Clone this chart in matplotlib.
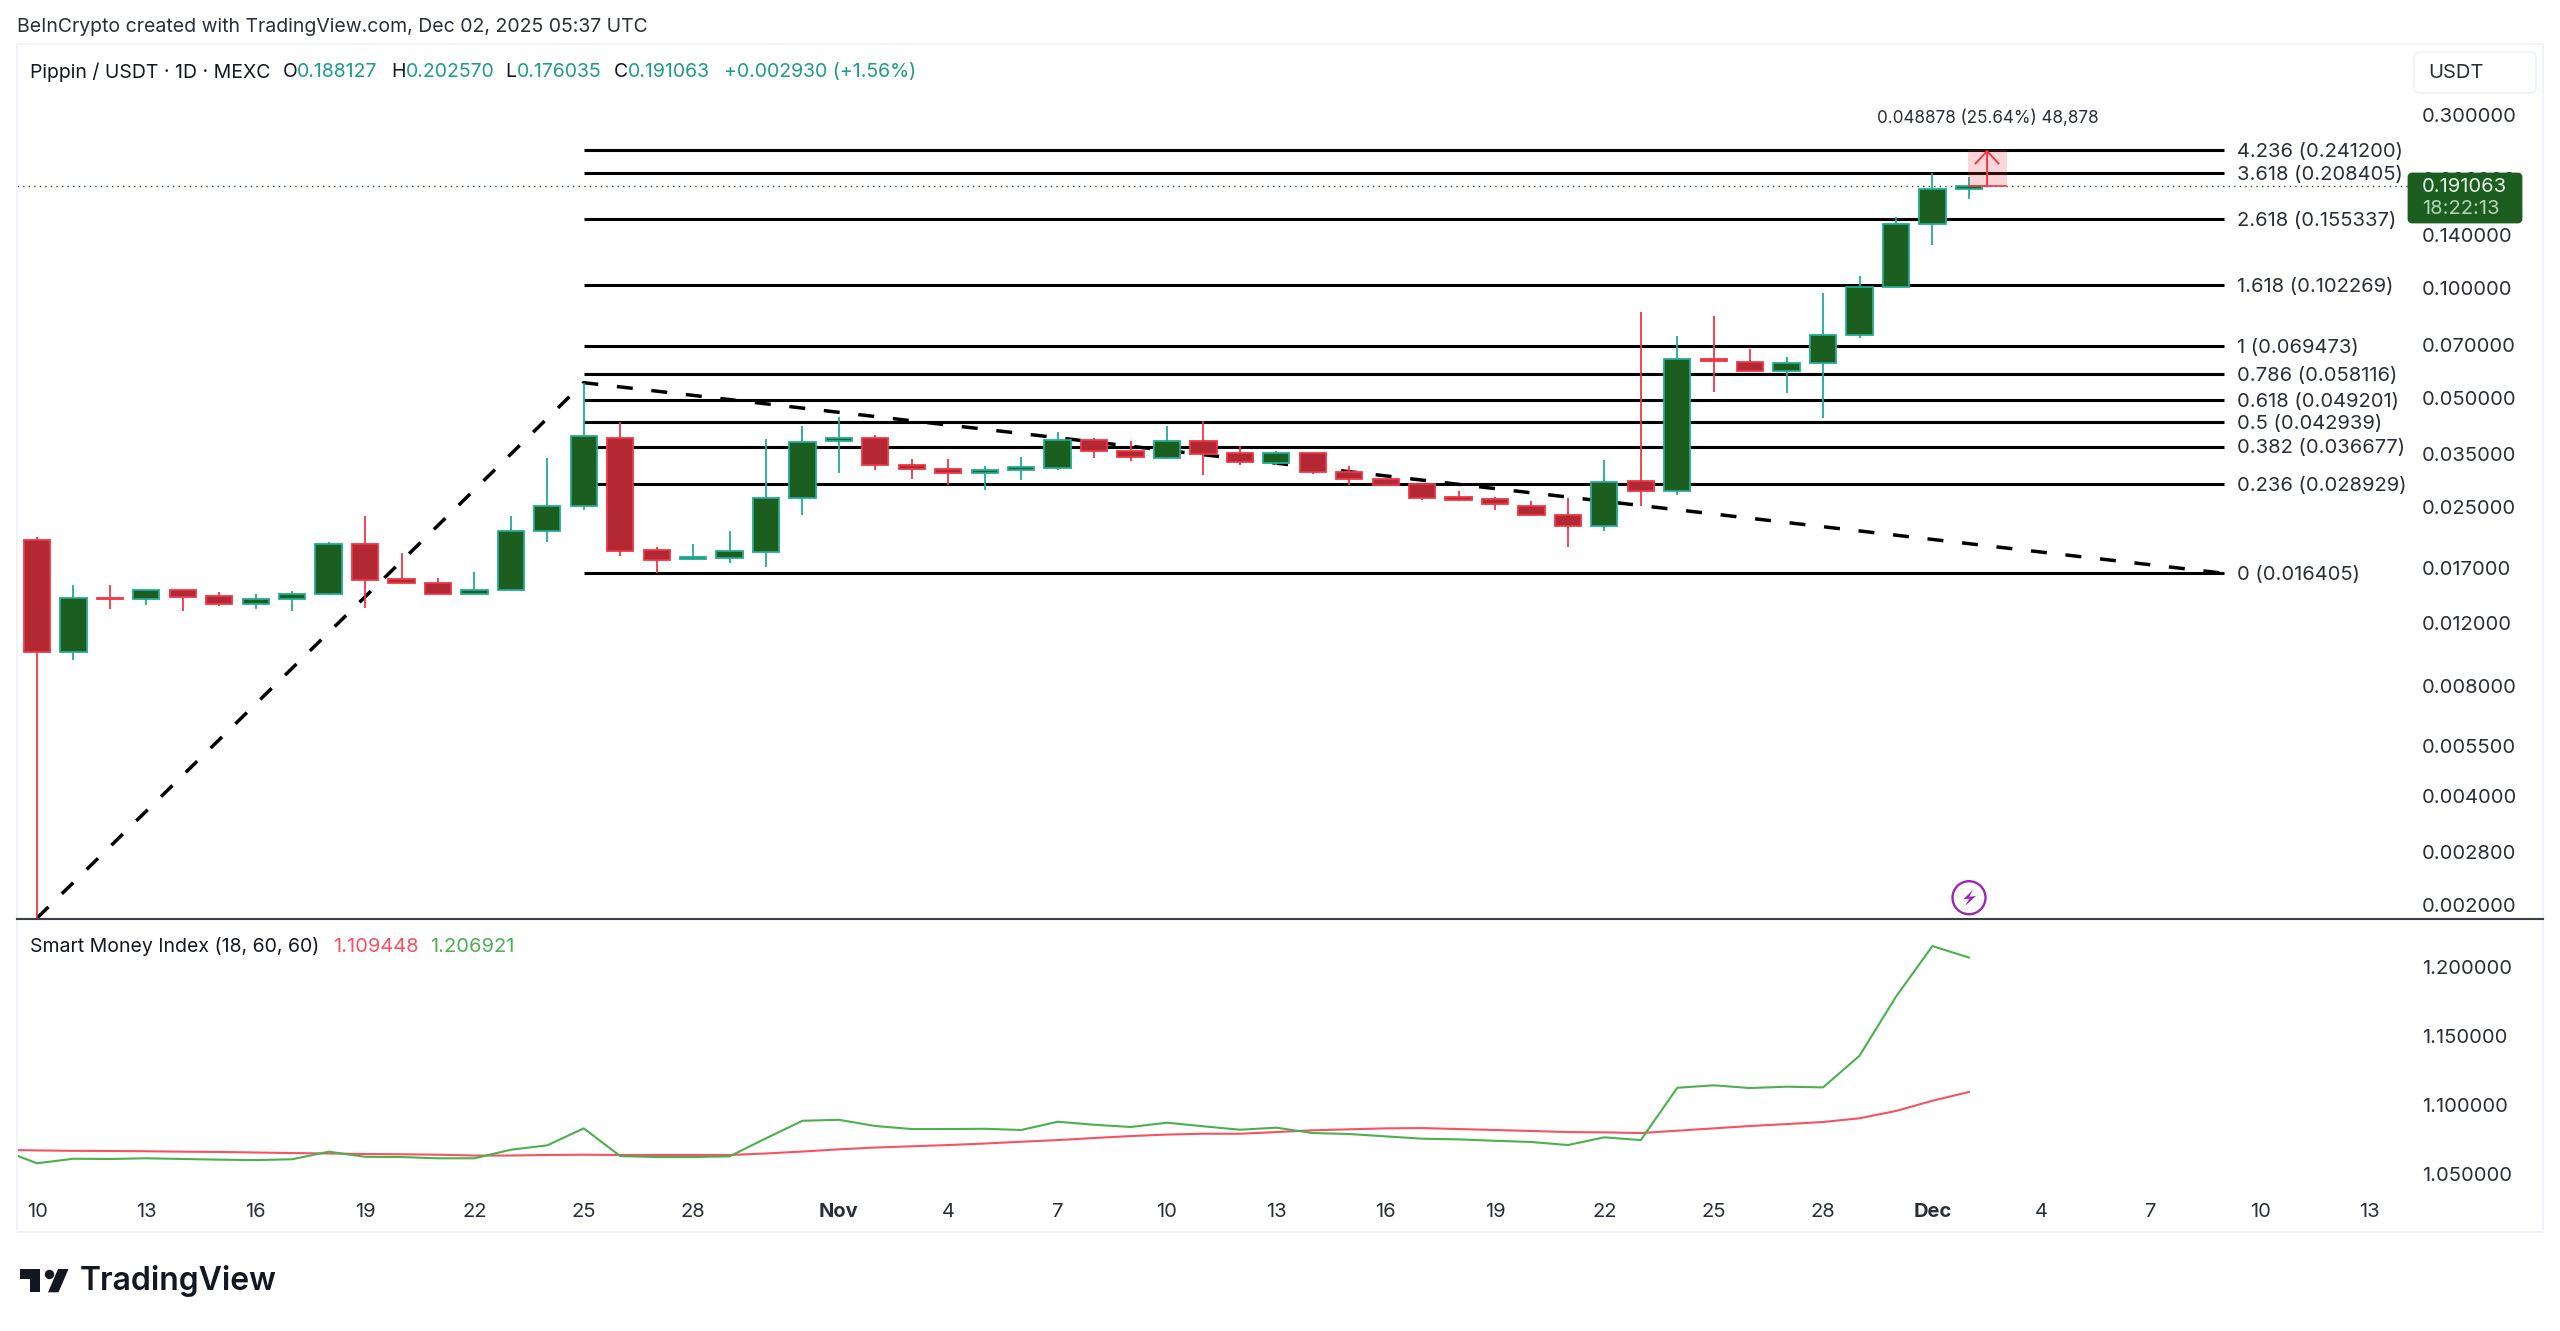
import matplotlib
matplotlib.use("Agg")
import matplotlib.pyplot as plt
from matplotlib.patches import Circle, FancyBboxPatch, Polygon, Rectangle
from matplotlib.ticker import NullLocator

plt.rcParams["font.family"] = ["Inter", "DejaVu Sans"]

# Daily candles, day 0 is Oct 10
opens = [.0203, .00993, .0140, .0139, .0148, .0142, .0135, .0139, .0144, .0197, .0158, .0154, .0144, .0148,
         .0215, .0252, .0388, .0190, .0180, .0181, .0188, .0265, .0379, .0386, .0326, .0319, .0310, .0315,
         .0321, .0382, .0357, .0342, .0380, .0351, .0331, .0351, .0313, .0299, .0289, .0266, .0263, .0252,
         .0238, .0222, .0295, .0276, .0640, .0628, .0594, .0622, .0744, .1010, .1508, .188127]
highs = [.0207, .0152, .0152, .0148, .0148, .0146, .0144, .0147, .0200, .0236, .0187, .0159, .0165, .0236,
         .0342, .0550, .0428, .0194, .0198, .0214, .0385, .0419, .0441, .0394, .0339, .0339, .0325, .0344,
         .0403, .0388, .0381, .0419, .0432, .0369, .0357, .0351, .0324, .0299, .0291, .0276, .0266, .0260,
         .0264, .0337, .0860, .0738, .0842, .0681, .0648, .0970, .1079, .1578, .2076, .20257]
lows = [.00184, .00944, .0131, .0134, .0129, .0133, .0131, .0129, .0143, .0132, .0153, .0144, .0144, .0147,
        .0200, .0245, .0183, .0164, .0178, .0175, .0171, .0237, .0310, .0317, .0299, .0288, .0279, .0297,
        .0317, .0341, .0334, .0339, .0306, .0327, .0326, .0309, .0288, .0285, .0262, .0259, .0245, .0236,
        .0194, .0215, .0251, .0270, .0518, .0593, .0514, .0440, .0730, .1007, .1320, .176035]
closes = [.00993, .0140, .0139, .0148, .0141, .0135, .0139, .0144, .0198, .0157, .0154, .0144, .0148, .0215,
          .0252, .0391, .0189, .0179, .0182, .0189, .0265, .0378, .0386, .0327, .0319, .0310, .0316, .0322,
          .0382, .0356, .0344, .0380, .0350, .0332, .0351, .0312, .0299, .0288, .0265, .0262, .0254, .0238,
          .0222, .0292, .0276, .0638, .0630, .0594, .0622, .0744, .1010, .1508, .1875, .191063]

# Smart Money Index, first value is day -1 (clipped by the pane)
smi_green = [1.0678, 1.0578, 1.0611, 1.0609, 1.0614, 1.0609, 1.0604, 1.0601, 1.0607, 1.0662, 1.0625, 1.0623,
             1.0614, 1.0614, 1.0676, 1.0708, 1.0831, 1.0630, 1.0623, 1.0623, 1.0628, 1.0759, 1.0886, 1.0893,
             1.0848, 1.0826, 1.0826, 1.0828, 1.0819, 1.0879, 1.0857, 1.0841, 1.0872, 1.0846, 1.0821, 1.0836,
             1.0797, 1.0790, 1.0773, 1.0756, 1.0751, 1.0741, 1.0732, 1.0710, 1.0766, 1.0746, 1.1125, 1.1143,
             1.1123, 1.1133, 1.1128, 1.1357, 1.1785, 1.2152, 1.206921]
smi_red = [1.0676, 1.0671, 1.0668, 1.0667, 1.0665, 1.0662, 1.0660, 1.0656, 1.0652, 1.0649, 1.0645, 1.0643,
           1.0640, 1.0634, 1.0634, 1.0638, 1.0640, 1.0638, 1.0638, 1.0638, 1.0638, 1.0649, 1.0663, 1.0679,
           1.0692, 1.0701, 1.0710, 1.0721, 1.0734, 1.0746, 1.0761, 1.0775, 1.0786, 1.0792, 1.0792, 1.0804,
           1.0817, 1.0824, 1.0831, 1.0833, 1.0826, 1.0819, 1.0812, 1.0804, 1.0802, 1.0797, 1.0814, 1.0831,
           1.0848, 1.0862, 1.0877, 1.0904, 1.0957, 1.1031, 1.109448]

# Fibonacci levels
fib_ratios = ["4.236", "3.618", "2.618", "1.618", "1", "0.786", "0.618", "0.5", "0.382", "0.236", "0"]
fib_prices = [.2412, .208405, .155337, .102269, .069473, .058116, .049201, .042939, .036677, .028929, .016405]

# Trend lines
trend_days = [0, 15, 60]
trend_prices = [.00184, .055, .016405]

price_ticks = [.3, .2, .14, .1, .07, .05, .035, .025, .017, .012, .008, .0055, .004, .0028, .002]
smi_ticks = [1.05, 1.1, 1.15, 1.2]
date_days = [0, 3, 6, 9, 12, 15, 18, 22, 25, 28, 31, 34, 37, 40, 43, 46, 49, 52, 55, 58, 61, 64]
date_labels = ["10", "13", "16", "19", "22", "25", "28", "Nov", "4", "7", "10", "13", "16", "19", "22", "25",
               "28", "Dec", "4", "7", "10", "13"]

last_price = .191063
target_price = .2412
measure_label_price = .2948

UP_FACE = "#1b5e20"
UP_EDGE = "#22ab94"
DOWN_FACE = "#b22833"
DOWN_EDGE = "#f23645"
TEXT = "#2a2e39"
TEAL = "#1f9c85"

W, H = 2560, 1331
fig = plt.figure(figsize=(W / 100, H / 100), dpi=100, facecolor="white")


def pane(left, top, right, bottom):
    return fig.add_axes([left / W, 1 - bottom / H, (right - left) / W, (bottom - top) / H])


ax = pane(17, 45, 2415, 919)
ax_smi = pane(17, 920, 2415, 1195)

# chrome drawn in pixel coordinates on top of everything
over = fig.add_axes([0, 0, 1, 1], zorder=10)
over.set_xlim(0, W)
over.set_ylim(H, 0)
over.axis("off")

xlim = (-0.5487, 65.24)
days = list(range(len(opens)))

ax.set_yscale("log")
ax.set_xlim(*xlim)
ax.set_ylim(.0018295, .4687)

# Fib lines and trend lines sit behind the candles
ax.hlines(fib_prices, 15, 60, color="black", linewidth=2.2, zorder=1)
for ratio, price in zip(fib_ratios, fib_prices):
    ax.annotate(f"{ratio} ({price:.6f})", (60.36, price), xytext=(0, -1.4), textcoords="offset points",
                fontsize=14.5, color=TEXT, va="center", ha="left", annotation_clip=False)
ax.plot(trend_days, trend_prices, color="black", linewidth=2.5, linestyle=(0, (4.6, 5.4)), zorder=1.5)

# Current price line
ax.axhline(last_price, color=UP_FACE, linewidth=1.0, linestyle=(0, (1, 3)), zorder=1.2)

# Candles
for d, o, h, l, c in zip(days, opens, highs, lows, closes):
    face, edge = (UP_FACE, UP_EDGE) if c >= o else (DOWN_FACE, DOWN_EDGE)
    ax.vlines(d, l, h, color=edge, linewidth=1.3, zorder=2)
    ax.bar(d, abs(c - o), bottom=min(o, c), width=0.72, color=face, edgecolor=edge, linewidth=1.3, zorder=3)

# Long position tool
ax.bar(53.52, target_price - last_price, bottom=last_price, width=1.07, color=DOWN_EDGE, alpha=0.2,
       linewidth=0, zorder=2.5)
ax.hlines(last_price, 52.98, 54.05, color=DOWN_EDGE, linewidth=1.2, zorder=4)
ax.annotate("", xy=(53.5, target_price), xytext=(53.5, last_price), zorder=4,
            arrowprops=dict(arrowstyle="->,head_length=0.45,head_width=0.42", color=DOWN_EDGE, lw=1.4,
                            shrinkA=0, shrinkB=0, mutation_scale=20))
ax.text(53.53, measure_label_price, "0.048878 (25.64%) 48,878", fontsize=12.3, color=TEXT, ha="center", va="center")

ax.yaxis.tick_right()
ax.set_yticks(price_ticks)
ax.set_yticklabels([f"{p:.6f}" for p in price_ticks])
ax.yaxis.set_minor_locator(NullLocator())
ax.tick_params(axis="y", length=0, pad=5, labelsize=14.5, labelcolor=TEXT)
ax.set_xticks([])
for s in ax.spines.values():
    s.set_visible(False)
ax.patch.set_alpha(0)

# Indicator pane
smi_days = list(range(-1, len(smi_green) - 1))
ax_smi.plot(smi_days, smi_red, color="#f7525f", linewidth=1.5, zorder=2)
ax_smi.plot(smi_days, smi_green, color="#4caf50", linewidth=1.5, zorder=3)
ax_smi.set_xlim(*xlim)
ax_smi.set_ylim(1.0348, 1.2341)
ax_smi.yaxis.tick_right()
ax_smi.set_yticks(smi_ticks)
ax_smi.set_yticklabels([f"{v:.6f}" for v in smi_ticks])
ax_smi.set_xticks(date_days)
ax_smi.set_xticklabels(date_labels)
ax_smi.tick_params(axis="y", length=0, pad=5, labelsize=14.5, labelcolor=TEXT)
ax_smi.tick_params(axis="x", length=0, pad=6, labelsize=14.5, labelcolor=TEXT)
for lab in ax_smi.get_xticklabels():
    if lab.get_text() in ("Nov", "Dec"):
        lab.set_fontweight("bold")
for s in ax_smi.spines.values():
    s.set_visible(False)
ax_smi.patch.set_alpha(0)

# Frame and pane separator
over.add_patch(Rectangle((17, 44), 2526, 1188, fill=False, edgecolor="#f0f3fa", linewidth=1.4))
over.plot([17, 2543], [919, 919], color="#3c3f45", linewidth=1.5)

# Price tag over the axis
over.add_patch(FancyBboxPatch((2409, 174), 112, 48, boxstyle="round,pad=0,rounding_size=3", mutation_aspect=1,
                              facecolor=UP_FACE, edgecolor=UP_FACE, linewidth=2))
over.text(2422, 186.5, "0.191063", fontsize=14.5, color="#e8f2e8", va="center", ha="left")
over.text(2422, 209, "18:22:13", fontsize=14.5, color="#b5d3b6", va="center", ha="left")

# Currency button
over.add_patch(FancyBboxPatch((2414, 52), 122, 41, boxstyle="round,pad=0,rounding_size=6",
                              facecolor="white", edgecolor="#f0f3fa", linewidth=1.4))
over.text(2428, 73, "USDT", fontsize=14.5, color=TEXT, va="center", ha="left")

# Header texts
over.text(17, 27, "BeInCrypto created with TradingView.com, Dec 02, 2025 05:37 UTC", fontsize=14,
          color=TEXT, va="center", ha="left")
over.text(30, 72, "Pippin / USDT · 1D · MEXC", fontsize=14, color="#131722", va="center", ha="left")
header_labels = ["O", "H", "L", "C"]
header_label_x = [282.5, 391, 505, 613.5]
header_values = ["0.188127", "0.202570", "0.176035", "0.191063"]
header_value_x = [296.6, 405.6, 516.6, 628]
for lab, lx, val, vx in zip(header_labels, header_label_x, header_values, header_value_x):
    over.text(lx, 72, lab, fontsize=14, color="#131722", va="center", ha="left")
    over.text(vx, 72, val, fontsize=14, color=TEAL, va="center", ha="left")
over.text(724, 72, "+0.002930 (+1.56%)", fontsize=14, color=TEAL, va="center", ha="left")

over.text(30, 947, "Smart Money Index (18, 60, 60)", fontsize=14, color="#131722", va="center", ha="left")
over.text(333, 947, "1.109448", fontsize=14.5, color="#f7525f", va="center", ha="left")
over.text(430, 947, "1.206921", fontsize=14.5, color="#4caf50", va="center", ha="left")

# Lightning marker
over.add_patch(Circle((1969, 897.7), 16.5, fill=False, edgecolor="#9c27b0", linewidth=1.7))
over.add_patch(Polygon([(1972.7, 890), (1963.3, 899.3), (1969.3, 898.7), (1965, 906), (1976, 896), (1969.3, 896.7)],
                       closed=True, facecolor="#9c27b0", edgecolor="none"))

# TradingView logo
over.add_patch(Polygon([(20, 1269), (40, 1269), (40, 1292.3), (30, 1292.3), (30, 1279), (20, 1279)], closed=True,
                       facecolor="#131722", edgecolor="none"))
over.add_patch(Circle((49.5, 1274.5), 4.7, facecolor="#131722", edgecolor="none"))
over.add_patch(Polygon([(48, 1292.3), (58, 1269), (68.5, 1269), (58.5, 1292.3)], closed=True, facecolor="#131722",
                       edgecolor="none"))
over.text(80, 1281, "TradingView", fontsize=23, fontweight="semibold", color="#131722", va="center", ha="left")

fig.savefig("out.png", dpi=100, facecolor="white")
